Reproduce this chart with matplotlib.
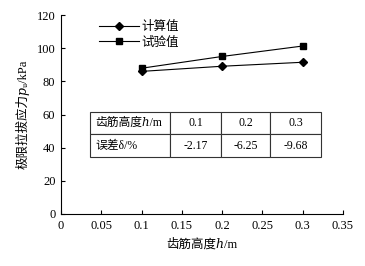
import matplotlib
matplotlib.use("Agg")
import matplotlib.pyplot as plt

plt.rcParams['font.family'] = ['Liberation Serif', 'Noto Sans CJK SC', 'DejaVu Serif']

h = [0.1, 0.2, 0.3]
calc = [86.0, 89.1, 91.5]
test = [87.9, 95.0, 101.3]
err_labels = ["-2.17", "-6.25", "-9.68"]
h_labels = ["0.1", "0.2", "0.3"]

fig = plt.figure(figsize=(3.65, 2.66), dpi=100)
ax = fig.add_axes([61/365, 1-214/266, (343-61)/365, (214-15)/266])

ax.plot(h, calc, color='black', lw=0.8, marker='D', ms=4, label='计算值')
ax.plot(h, test, color='black', lw=0.8, marker='s', ms=4, label='试验值')

ax.set_xlim(0, 0.35)
ax.set_ylim(0, 120)
ax.set_xticks([0, 0.05, 0.1, 0.15, 0.2, 0.25, 0.3, 0.35])
ax.set_xticklabels(["0", "0.05", "0.1", "0.15", "0.2", "0.25", "0.3", "0.35"])
ax.set_yticks([0, 20, 40, 60, 80, 100, 120])
ax.tick_params(direction='in', length=3, width=0.8, labelsize=9, pad=4)
for s in ['top', 'right']:
    ax.spines[s].set_visible(False)
for s in ['left', 'bottom']:
    ax.spines[s].set_linewidth(0.8)

ax.set_xlabel('齿筋高度ℎ/m', fontsize=9, labelpad=5)
ax.set_ylabel('极限拉拔应力𝑝ᵤ/kPa', fontsize=9, labelpad=5)

ax.legend(loc='upper left', bbox_to_anchor=(0.095, 1.025), frameon=False,
          fontsize=9, handlelength=3.2, handletextpad=0.2, labelspacing=0.25)

rows = [["齿筋高度ℎ/m"] + h_labels, ["误差δ/%"] + err_labels]
tbl = ax.table(cellText=rows, bbox=[(90-61)/282, (214-157)/199, (321-90)/282, (157-112)/199],
               colWidths=[80, 51, 49, 51], cellLoc='center')
tbl.auto_set_font_size(False)
tbl.set_fontsize(8.5)
for (r, c), cell in tbl.get_celld().items():
    cell.set_linewidth(0.8)
    cell.set_edgecolor('#333333')
    if c == 0:
        cell.set_text_props(ha='left')
        cell.PAD = 0.07

fig.savefig("out.png", dpi=100)
